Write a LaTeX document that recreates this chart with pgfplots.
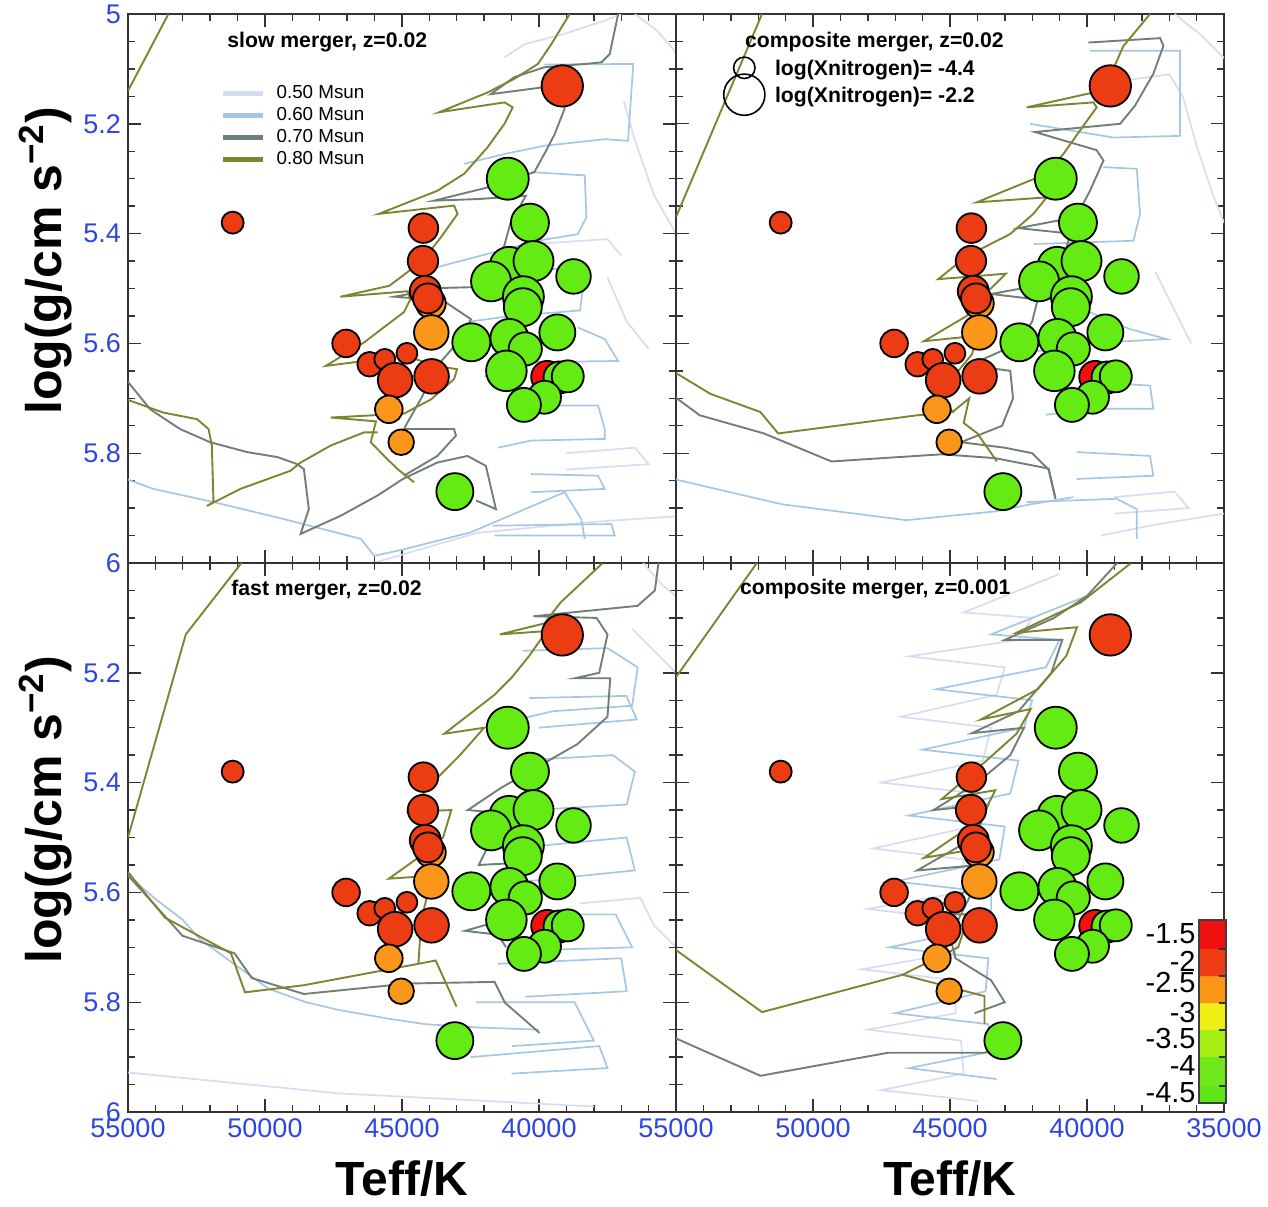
\documentclass[border=0pt]{standalone}
\usepackage{pgfplots}
\usepackage{pgfplotstable}
\pgfplotsset{compat=1.18}
\usepackage{fontspec}
\setmainfont{Liberation Sans}
\definecolor{cR}{RGB}{236,60,20}
\definecolor{cB}{RGB}{245,15,15}
\definecolor{cO}{RGB}{250,150,25}
\definecolor{cG}{RGB}{100,235,20}
\definecolor{c50}{RGB}{214,220,242}
\definecolor{c60}{RGB}{165,198,228}
\definecolor{c70}{RGB}{112,128,118}
\definecolor{c80}{RGB}{128,132,48}
\definecolor{tickblue}{RGB}{45,70,225}
\newcommand{\tickfont}{\fontsize{13.5}{15}\selectfont}
\newcommand{\xlabfont}{\fontsize{24}{26}\selectfont\bfseries}
\newcommand{\ylabfont}{\fontsize{25}{27}\selectfont\bfseries}
\newcommand{\titfont}{\fontsize{10.6}{12}\selectfont\bfseries}
\newcommand{\legfont}{\fontsize{9.4}{10.5}\selectfont}
\newcommand{\cbfont}{\fontsize{14.5}{15}\selectfont}
\tikzset{t50/.style={color=c50, line width=0.85pt},
 t60/.style={color=c60, line width=0.85pt},
 t70/.style={color=c70, line width=0.95pt},
 t80/.style={color=c80, line width=0.95pt}}
\pgfplotsset{panel/.style={width=274pt, height=274.5pt, scale only axis,
 xmin=35000, xmax=55000, ymin=5, ymax=6, x dir=reverse, y dir=reverse,
 xtick={35000,40000,45000,50000,55000}, ytick={5,5.2,5.4,5.6,5.8,6},
 minor x tick num=4, minor y tick num=3, xticklabels={}, yticklabels={},
 tick align=inside, major tick length=6.5pt, minor tick length=3.5pt,
 every tick/.style={black!80, line width=0.7pt},
 axis line style={black!80, line width=0.9pt}, scaled ticks=false,
 tick label style={font=\tickfont, text=tickblue},
 xlabel style={font=\xlabfont, at={(axis description cs:0.5,-0.122)}, anchor=center},
 ylabel style={font=\ylabfont, at={(axis description cs:-0.151,0.55)}, anchor=center}}}

\pgfplotstableread{
T g r c
39150 5.131 10.35 R
51180 5.380 5.5 R
41140 5.300 10.5 G
44220 5.390 7.4 R
40330 5.380 9.5 G
44235 5.450 7.6 R
41090 5.460 9.85 G
40200 5.450 10.0 G
38740 5.478 8.65 G
41750 5.487 10.0 G
40570 5.515 10.25 G
40590 5.534 9.5 G
43950 5.527 7.5 O
44150 5.505 7.75 R
44050 5.518 7.5 R
43930 5.580 8.65 O
39330 5.580 9.0 G
42470 5.598 9.5 G
41080 5.590 9.5 G
40500 5.610 8.3 G
47040 5.600 6.9 R
46180 5.638 6.15 R
45630 5.629 5.2 R
44820 5.618 5.2 R
45250 5.667 8.65 R
43920 5.660 8.65 R
41190 5.650 10.15 G
39700 5.661 8.0 B
39250 5.662 8.0 G
38950 5.660 8.0 G
39800 5.698 8.25 G
40550 5.712 8.5 G
45480 5.720 6.9 O
45030 5.780 6.4 O
43070 5.870 9.25 G
}\stars

\newcommand{\plotstars}{%
\addplot[black, scatter, only marks, mark=*, point meta=explicit symbolic,
 scatter/classes={R={fill=cR, line width=0.9pt}, O={fill=cO, line width=0.9pt},
 G={fill=cG, line width=0.9pt}, B={fill=cB, line width=0.9pt}},
 visualization depends on={\thisrow{r} \as \rad},
 scatter/@pre marker code/.append style={/tikz/mark size=\rad pt}]
 table[x=T, y=g, meta=c]{\stars};}

\begin{document}
\begin{tikzpicture}
\useasboundingbox (0,0) rectangle (634pt,603pt);

% ---------------- top left: slow merger
\begin{axis}[panel, at={(64pt,321.5pt)}, anchor=south west,
 yticklabels={5,5.2,5.4,5.6,5.8,6}, ylabel={log(g/cm s\textsuperscript{−2})},
 legend style={font=\legfont, draw=none, fill=none, inner sep=0pt, row sep=-1.05pt,
  at={(axis description cs:0.168,0.878)}, anchor=north west, legend cell align=left},
 legend image code/.code={\draw[#1, line width=2.2pt] (0pt,0pt) -- (20pt,0pt); \path (24.5pt,0pt);}]
\addlegendimage{t50}\addlegendentry{0.50 Msun}
\addlegendimage{t60}\addlegendentry{0.60 Msun}
\addlegendimage{t70}\addlegendentry{0.70 Msun}
\addlegendimage{t80}\addlegendentry{0.80 Msun}
% 0.50
\addplot[t50, forget plot] coordinates {(41260,5.079) (40530,5.055) (39070,5.036) (37600,5.012) (37000,5.000)};
\addplot[t50, forget plot] coordinates {(36500,5.000) (35700,5.030) (35000,5.070)};
\addplot[t50, forget plot] coordinates {(36900,5.160) (36500,5.230) (35800,5.330) (35000,5.400)};
\addplot[t50, forget plot] coordinates {(37500,5.480) (36800,5.560) (36000,5.610)};
\addplot[t50, forget plot] coordinates {(40500,5.420) (37500,5.410) (37000,5.440)};
\addplot[t50, forget plot] coordinates {(46050,6.000) (42250,5.945) (38000,5.925) (35000,5.915)};
\addplot[t50, forget plot] coordinates {(39000,5.800) (36500,5.790) (36000,5.820) (39000,5.830)};
% 0.60
\addplot[t60, forget plot] coordinates {(55000,5.848) (54073,5.865) (51875,5.889) (49311,5.920) (46502,5.956) (46014,5.987) (44927,5.975) (42484,5.944) (39066,5.871) (38456,5.920) (38333,5.956)};
\addplot[t60, forget plot] coordinates {(39800,5.092) (36560,5.091) (36750,5.231) (37590,5.228) (39800,5.240) (41260,5.255) (42730,5.273)};
\addplot[t60, forget plot] coordinates {(40290,5.288) (38330,5.294) (38270,5.370) (38580,5.401) (40040,5.413) (41880,5.437) (43710,5.461)};
\addplot[t60, forget plot] coordinates {(41000,5.470) (38700,5.462) (38400,5.500) (38500,5.540) (41000,5.550) (42500,5.560)};
\addplot[t60, forget plot] coordinates {(38578,5.571) (37601,5.592) (37113,5.632) (40286,5.634) (42000,5.660)};
\addplot[t60, forget plot] coordinates {(40286,5.713) (37845,5.713) (37601,5.756) (37601,5.774) (40286,5.777) (41500,5.790)};
\addplot[t60, forget plot] coordinates {(40286,5.838) (37845,5.841) (37601,5.865) (40286,5.871)};
\addplot[t60, forget plot] coordinates {(41692,5.932) (37357,5.929) (37235,5.950) (41630,5.950)};
% 0.70
\addplot[t70, forget plot] coordinates {(37110,5.000) (37420,5.073) (37720,5.088) (38330,5.091) (39800,5.097) (40900,5.115) (41760,5.146) (39920,5.134) (39070,5.134) (39070,5.173) (39430,5.219) (39720,5.247) (40170,5.288) (41880,5.316) (43830,5.340) (42200,5.337) (40480,5.331) (41050,5.382) (41370,5.441) (41490,5.479) (42000,5.497) (43520,5.499) (45290,5.515) (43500,5.522) (42480,5.556) (43000,5.600) (43700,5.640) (44300,5.700) (44930,5.756) (43100,5.756) (43030,5.768) (43710,5.805) (44930,5.841)};
\addplot[t70, forget plot] coordinates {(55000,5.670) (54190,5.720) (53100,5.756) (52000,5.780) (50650,5.798) (49550,5.807) (48820,5.820) (48580,5.829) (48400,5.902) (48700,5.947) (47240,5.914) (45890,5.877) (44970,5.847) (43710,5.817) (42610,5.805) (41940,5.823) (41570,5.902) (42300,5.886)};
% 0.80
\addplot[t80, forget plot] coordinates {(53524,5.0) (55000,5.140)};
\addplot[t80, forget plot] coordinates {(38880,5.000) (39550,5.055) (40040,5.091) (40900,5.118) (41880,5.143) (43645,5.179) (41260,5.161) (40960,5.170) (41260,5.200) (41880,5.243) (42730,5.291) (43710,5.322) (44930,5.346) (45840,5.364) (43100,5.349) (42970,5.364) (43570,5.406) (44100,5.440) (44530,5.460) (45460,5.495) (47250,5.515) (44790,5.505) (44700,5.520) (44930,5.543) (46380,5.598) (47780,5.641) (46380,5.632) (44930,5.622) (43720,5.641) (42990,5.647) (43100,5.665) (43940,5.702) (44930,5.728) (47600,5.735) (45950,5.742) (46140,5.780) (45650,5.805) (45160,5.829) (44560,5.853)};
\addplot[t80, forget plot] coordinates {(55000,5.703) (53710,5.726) (52480,5.738) (52060,5.756) (51940,5.786) (51880,5.889) (52120,5.896) (50900,5.865) (49070,5.832) (48700,5.817) (47600,5.786) (46380,5.762) (45890,5.762)};
\plotstars
\node[anchor=west, font=\titfont] at (axis cs:51630,5.051) {slow merger, z=0.02};
\end{axis}

% ---------------- top right: composite merger z=0.02
\begin{axis}[panel, at={(338pt,321.5pt)}, anchor=south west]
\addplot[t50] coordinates {(36800,5.000) (35800,5.040) (35000,5.080)};
\addplot[t50] coordinates {(36500,5.150) (36000,5.240) (35400,5.330) (35000,5.380)};
\addplot[t50] coordinates {(38500,5.120) (37000,5.110) (36500,5.150)};
\addplot[t50] coordinates {(37500,5.470) (36800,5.540) (36200,5.600)};
\addplot[t50] coordinates {(39500,5.950) (37500,5.930) (35000,5.910)};
\addplot[t50] coordinates {(39000,5.880) (36800,5.870) (36300,5.900) (39000,5.910)};
\addplot[t60] coordinates {(55000,5.848) (51140,5.893) (46600,5.922) (43350,5.906) (42050,5.893) (40500,5.880)};
\addplot[t60] coordinates {(39889,5.067) (36604,5.067) (36604,5.222) (39037,5.225) (42079,5.200)};
\addplot[t60] coordinates {(39402,5.279) (38184,5.282) (38064,5.364) (38307,5.413) (41958,5.419)};
\addplot[t60] coordinates {(41000,5.520) (38429,5.574) (37090,5.592) (40000,5.600) (42500,5.620)};
\addplot[t60] coordinates {(39524,5.671) (37699,5.677) (37578,5.719) (39524,5.719) (41500,5.730)};
\addplot[t60] coordinates {(40375,5.798) (37699,5.805) (37578,5.841) (40375,5.847)};
\addplot[t60] coordinates {(42200,5.889) (38915,5.883) (38184,5.902) (38184,5.956)};
\addplot[t70] coordinates {(39950,5.052) (37330,5.044) (37210,5.058) (37580,5.109) (38250,5.167) (38790,5.200) (41900,5.215) (39650,5.248) (39400,5.267) (39890,5.322) (40400,5.370) (42500,5.390) (40600,5.400) (40900,5.450) (41300,5.490) (43500,5.510) (41800,5.520) (42000,5.560) (42500,5.600) (44300,5.640) (42800,5.650) (42700,5.700) (43100,5.750) (44600,5.780) (43000,5.790) (42000,5.800) (41400,5.830) (41150,5.883)};
\addplot[t70] coordinates {(55000,5.699) (54130,5.731) (51790,5.764) (49330,5.815) (45300,5.802) (43350,5.809) (41400,5.828) (41150,5.883)};
\addplot[t80] coordinates {(51860,5.0) (55000,5.370)};
\addplot[t80] coordinates {(37700,5.000) (38680,5.059) (39200,5.118) (39500,5.140) (42200,5.170) (39770,5.161) (39645,5.170) (40254,5.212) (40863,5.255) (41470,5.291) (44025,5.343) (41470,5.334) (41958,5.364) (42809,5.401) (44390,5.441) (45430,5.483) (42960,5.473) (43610,5.505) (44390,5.550) (45950,5.596) (44000,5.586) (44200,5.620) (44700,5.650) (45300,5.690) (44910,5.725) (46210,5.731) (51270,5.764) (51920,5.725) (53740,5.692) (55000,5.654)};
\addplot[t80] coordinates {(44910,5.725) (44300,5.700) (44500,5.745) (44000,5.764) (43290,5.815)};
\plotstars
\addplot[black, only marks, mark=o, mark size=5.35pt, line width=0.8pt] coordinates {(52507,5.098)};
\addplot[black, only marks, mark=o, mark size=10.3pt, line width=0.8pt] coordinates {(52507,5.147)};
\node[anchor=west, font=\titfont] at (axis cs:52737,5.051) {composite merger, z=0.02};
\node[anchor=west, font=\titfont] at (axis cs:51642,5.102) {log(Xnitrogen)= -4.4};
\node[anchor=west, font=\titfont] at (axis cs:51642,5.151) {log(Xnitrogen)= -2.2};
\end{axis}

% ---------------- bottom left: fast merger
\begin{axis}[panel, at={(64pt,47pt)}, anchor=south west,
 yticklabels={,5.2,5.4,5.6,5.8,6}, xticklabels={,40000,45000,50000,55000},
 ylabel={log(g/cm s\textsuperscript{−2})}, xlabel={Teff/K}]
\addplot[t50] coordinates {(55000,5.928) (47320,5.966) (42250,5.979) (38000,5.990)};
\addplot[t50] coordinates {(36200,5.000) (35500,5.040) (35000,5.060)};
\addplot[t50] coordinates {(36600,5.120) (35800,5.160) (35000,5.200)};
\addplot[t50] coordinates {(38500,5.620) (36300,5.610) (35800,5.660) (35000,5.700)};
\addplot[t60] coordinates {(55000,5.569) (54000,5.612) (53000,5.650) (52380,5.685) (51000,5.735) (49850,5.776) (48500,5.800) (47320,5.814) (45500,5.830) (44150,5.840) (42250,5.846) (40000,5.850)};
\addplot[t60] coordinates {(40600,5.160) (37500,5.155) (36400,5.190) (36600,5.260) (39500,5.270) (41200,5.290)};
\addplot[t60] coordinates {(40354,5.246) (36810,5.242) (36430,5.285) (40000,5.300)};
\addplot[t60] coordinates {(40800,5.360) (37300,5.350) (36500,5.380) (36800,5.440) (40300,5.450)};
\addplot[t60] coordinates {(41000,5.520) (36800,5.500) (36500,5.560) (40500,5.580)};
\addplot[t60] coordinates {(40500,5.640) (37200,5.640) (36600,5.700) (40000,5.705)};
\addplot[t60] coordinates {(41500,5.730) (37000,5.720) (36800,5.780) (40500,5.790)};
\addplot[t60] coordinates {(42300,5.800) (38700,5.800) (38000,5.870) (41000,5.880)};
\addplot[t60] coordinates {(42500,5.900) (37800,5.880) (37500,5.920) (41000,5.930)};
\addplot[t70] coordinates {(35640,5.000) (35770,5.050) (36400,5.078) (40200,5.097) (37900,5.100) (37500,5.130) (37800,5.200) (38700,5.210) (37400,5.210) (37500,5.280) (38600,5.330) (40000,5.370) (41400,5.410) (42600,5.450) (41500,5.455) (41900,5.520) (42200,5.550) (40300,5.545) (40800,5.610) (41300,5.650) (42700,5.670) (41500,5.677) (41200,5.700)};
\addplot[t70] coordinates {(55000,5.569) (53010,5.679) (51110,5.711) (50480,5.756) (48580,5.785) (44790,5.766) (41620,5.763) (41240,5.801) (39980,5.856)};
\addplot[t80] coordinates {(50860,5.0) (52890,5.13) (55000,5.50)};
\addplot[t80] coordinates {(37696,5.001) (39215,5.072) (39800,5.110) (41430,5.130) (39722,5.124) (40354,5.169) (40987,5.208) (41620,5.240) (43456,5.311) (42000,5.300) (42886,5.350) (43899,5.401) (44785,5.453) (43200,5.450) (43500,5.500) (44500,5.540) (45481,5.575) (44000,5.570) (44100,5.610) (44300,5.650) (44400,5.730)};
\addplot[t80] coordinates {(55000,5.563) (53650,5.646) (51240,5.711) (50730,5.782) (48580,5.769) (44400,5.730) (43770,5.724) (43010,5.808)};
\plotstars
\node[anchor=west, font=\titfont] at (axis cs:51484,5.049) {fast merger, z=0.02};
\end{axis}

% ---------------- bottom right: composite merger z=0.001
\begin{axis}[panel, at={(338pt,47pt)}, anchor=south west,
 xticklabels={35000,40000,45000,50000,55000}, xlabel={Teff/K}]
\addplot[t50] coordinates {(41000,5.02) (44500,5.09) (42000,5.10) (42500,5.14) (46500,5.17) (43000,5.19) (43300,5.24) (46800,5.28) (43500,5.30) (43800,5.36) (47500,5.40) (44000,5.42) (44200,5.48) (47800,5.52) (44500,5.54) (44600,5.60) (48000,5.63) (44700,5.65) (44800,5.71) (48200,5.74) (44800,5.76) (44800,5.82) (48000,5.85) (44600,5.87) (44500,5.93) (47500,5.96) (44000,5.98)};
\addplot[t60] coordinates {(40000,5.06) (43500,5.13) (41000,5.14) (41500,5.19) (45500,5.23) (42000,5.25) (42300,5.30) (46000,5.34) (42500,5.36) (42800,5.42) (46500,5.46) (43000,5.48) (43200,5.54) (47000,5.58) (43500,5.60) (43500,5.66) (47200,5.70) (43600,5.72) (43700,5.78) (47000,5.82) (43600,5.84) (43500,5.89) (46500,5.92) (43300,5.94)};
\addplot[t70] coordinates {(38900,5.000) (40000,5.060) (41200,5.100) (43000,5.140) (40900,5.140) (41300,5.200) (42500,5.270) (44200,5.310) (42300,5.300) (42800,5.350) (44000,5.400) (45600,5.450) (43600,5.440) (44100,5.500) (46200,5.560) (43900,5.550) (44300,5.610) (45000,5.680) (44800,5.720) (43500,5.760) (43000,5.800) (44100,5.820)};
\addplot[t70] coordinates {(55000,5.866) (51920,5.934) (47250,5.892) (43740,5.892) (43000,5.880)};
\addplot[t80] coordinates {(52050,5.0) (55000,5.208)};
\addplot[t80] coordinates {(38416,5.001) (40234,5.072) (42571,5.127) (40364,5.117) (40753,5.169) (41800,5.230) (43870,5.285) (42052,5.266) (42571,5.311) (43740,5.363) (45299,5.430) (43351,5.414) (43870,5.466) (45948,5.537) (43610,5.517) (44000,5.563) (44500,5.600) (46000,5.640) (44300,5.640) (44700,5.700) (46730,5.750)};
\addplot[t80] coordinates {(55000,5.705) (51860,5.818) (46730,5.750) (43740,5.789) (43740,5.840)};
\plotstars
\node[anchor=west, font=\titfont] at (axis cs:52920,5.047) {composite merger, z=0.001};
\end{axis}

% ---------------- colour bar
\begin{axis}[at={(599.5pt,51.5pt)}, anchor=south west, width=13.5pt, height=91.5pt,
 scale only axis, xmin=0, xmax=1, ymin=0, ymax=183, xtick=\empty,
 ytick={10,37,64,90,120,142,169}, yticklabels={-4.5,-4,-3.5,-3,-2.5,-2,-1.5},
 major tick length=0pt, yticklabel style={font=\cbfont, text=black, inner sep=1.5pt},
 axis line style={black!75, line width=0.8pt}, axis on top]
\addplot[draw=none, fill={rgb,255:red,95;green,230;blue,25}] coordinates {(0,0) (1,0) (1,17) (0,17) (0,0)};
\addplot[draw=none, fill={rgb,255:red,110;green,232;blue,25}] coordinates {(0,17) (1,17) (1,46) (0,46) (0,17)};
\addplot[draw=none, fill={rgb,255:red,165;green,238;blue,20}] coordinates {(0,46) (1,46) (1,73) (0,73) (0,46)};
\addplot[draw=none, fill={rgb,255:red,238;green,240;blue,20}] coordinates {(0,73) (1,73) (1,100) (0,100) (0,73)};
\addplot[draw=none, fill={rgb,255:red,250;green,150;blue,20}] coordinates {(0,100) (1,100) (1,127) (0,127) (0,100)};
\addplot[draw=none, fill={rgb,255:red,240;green,60;blue,20}] coordinates {(0,127) (1,127) (1,154) (0,154) (0,127)};
\addplot[draw=none, fill={rgb,255:red,240;green,15;blue,15}] coordinates {(0,154) (1,154) (1,183) (0,183) (0,154)};
\addplot[black!80, line width=0.6pt] coordinates {(0.75,17) (1,17)};
\addplot[black!80, line width=0.6pt] coordinates {(0.75,46) (1,46)};
\addplot[black!80, line width=0.6pt] coordinates {(0.75,73) (1,73)};
\addplot[black!80, line width=0.6pt] coordinates {(0.75,100) (1,100)};
\addplot[black!80, line width=0.6pt] coordinates {(0.75,127) (1,127)};
\addplot[black!80, line width=0.6pt] coordinates {(0.75,154) (1,154)};
\end{axis}
\end{tikzpicture}
\end{document}
